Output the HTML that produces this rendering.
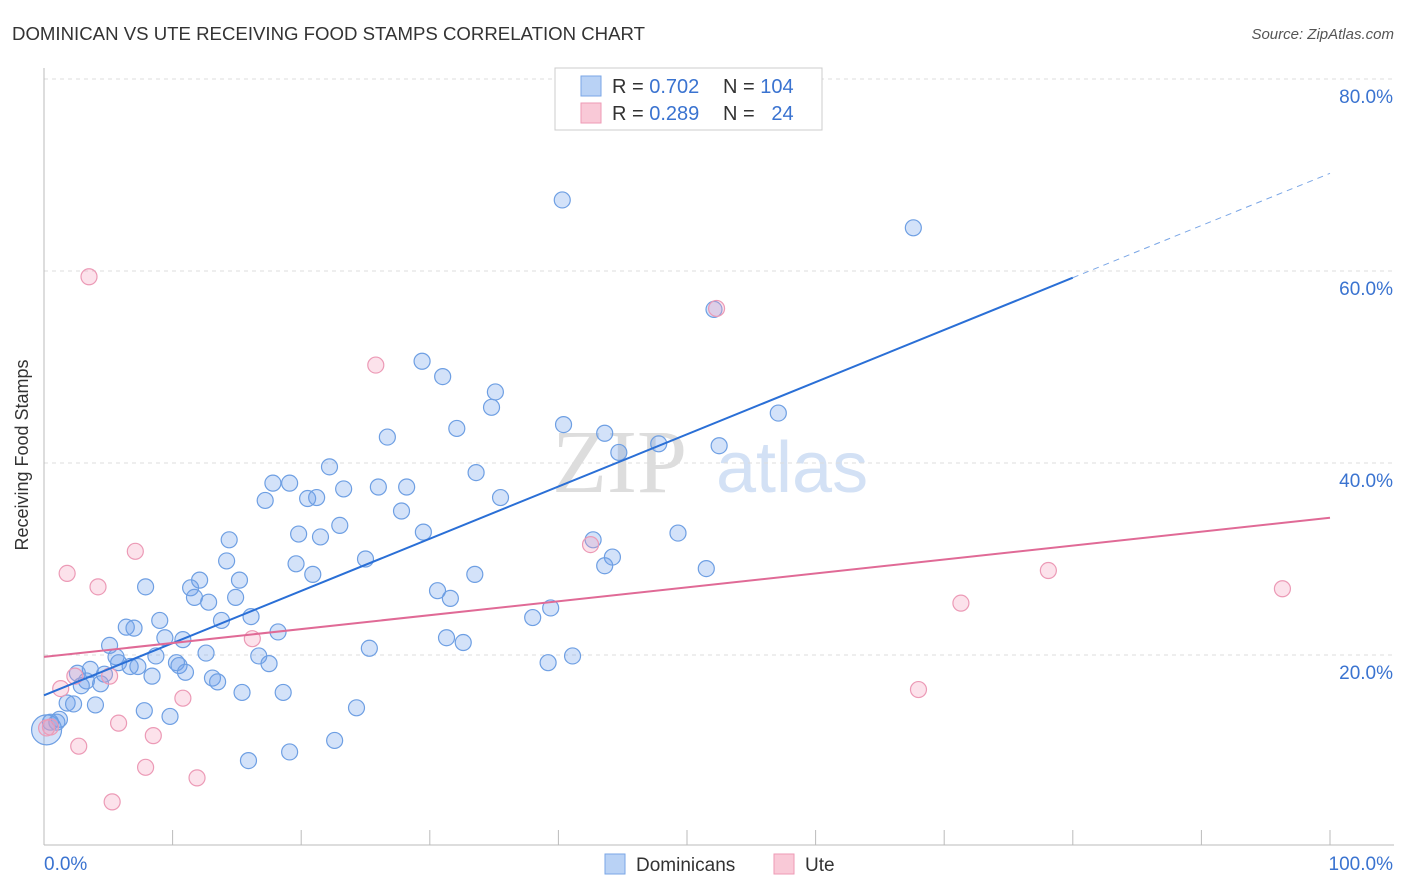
<!DOCTYPE html>
<html><head><meta charset="utf-8">
<style>
body{margin:0;background:#fff;font-family:"Liberation Sans",sans-serif;}
#wrap{position:relative;width:1406px;height:892px;overflow:hidden;}
</style></head>
<body>
<div id="wrap">
<svg id="svg" width="1406" height="892" xmlns="http://www.w3.org/2000/svg">
<text x="12" y="40" font-size="18" fill="#333" textLength="633" lengthAdjust="spacingAndGlyphs">DOMINICAN VS UTE RECEIVING FOOD STAMPS CORRELATION CHART</text>
<text x="1394" y="39" font-size="15" fill="#555" font-style="italic" text-anchor="end">Source: ZipAtlas.com</text>
<text x="28" y="455" font-size="18" fill="#333" text-anchor="middle" transform="rotate(-90 28 455)">Receiving Food Stamps</text>
<g>
<text x="552" y="492" font-size="90" fill="#ddd" font-family="Liberation Serif">ZIP</text>
<text x="716" y="492" font-size="72" fill="#d3e1f5">atlas</text>
</g>
<g id="grid"></g>
<g id="axes"></g>
<g id="pts"></g>
<g id="lines"></g>
<g>
<rect x="555" y="68" width="267" height="62" fill="#fff" stroke="#ccc"/>
<rect x="581" y="76" width="20" height="20" fill="#b9d2f5" stroke="#7aa6e6"/>
<text x="612" y="93" font-size="20" fill="#333">R = <tspan fill="#3a73d0">0.702</tspan></text>
<text x="723" y="93" font-size="20" fill="#333">N = <tspan fill="#3a73d0">104</tspan></text>
<rect x="581" y="103" width="20" height="20" fill="#f9c9d7" stroke="#ee9ab5"/>
<text x="612" y="120" font-size="20" fill="#333">R = <tspan fill="#3a73d0">0.289</tspan></text>
<text x="723" y="120" font-size="20" fill="#333" xml:space="preserve">N =   <tspan fill="#3a73d0">24</tspan></text>
</g>
<g>
<rect x="605" y="854" width="20" height="20" fill="#b9d2f5" stroke="#7aa6e6"/>
<text x="636" y="871" font-size="19" fill="#333">Dominicans</text>
<rect x="774" y="854" width="20" height="20" fill="#f9c9d7" stroke="#ee9ab5"/>
<text x="805" y="871" font-size="19" fill="#333">Ute</text>
</g>
</svg>
</div>
<script>
const yTicks=[20,40,60,80];
const yTickLabels=["20.0%","40.0%","60.0%","80.0%"];
const xTickLabels=["0.0%","100.0%"];
const domX=[40.3,67.6,52.1,29.4,31.0,35.1,34.8,57.1,40.4,26.7,32.1,43.6,44.7,47.8,52.5,22.2,33.6,17.8,19.1,26.0,28.2,23.3,17.2,20.5,21.2,35.5,27.8,23.0,14.4,19.8,21.5,29.5,49.3,42.7,44.2,25.0,14.2,19.6,20.9,33.5,43.6,51.5,15.2,12.1,11.4,7.9,11.7,14.9,12.8,30.6,31.6,9.0,16.1,13.8,39.4,38.0,6.4,7.0,18.2,9.4,10.8,31.3,32.6,5.1,25.3,12.6,5.6,8.7,41.1,16.7,39.2,10.3,5.8,17.5,10.5,6.7,7.3,11.0,3.6,8.4,2.6,4.7,13.1,13.5,3.3,4.4,2.9,15.4,18.6,1.8,4.0,2.3,24.3,7.8,9.8,1.2,0.5,19.1,22.6,15.9,1.0];
const domY=[67.4,64.5,56.0,50.6,49.0,47.4,45.8,45.2,44.0,42.7,43.6,43.1,41.1,42.0,41.8,39.6,39.0,37.9,37.9,37.5,37.5,37.3,36.1,36.3,36.4,36.4,35.0,33.5,32.0,32.6,32.3,32.8,32.7,32.0,30.2,30.0,29.8,29.5,28.4,28.4,29.3,29.0,27.8,27.8,27.0,27.1,26.0,26.0,25.5,26.7,25.9,23.6,24.0,23.6,24.9,23.9,22.9,22.8,22.4,21.8,21.6,21.8,21.3,21.0,20.7,20.2,19.8,19.9,19.9,19.9,19.2,19.2,19.2,19.1,18.9,18.8,18.8,18.2,18.5,17.8,18.1,18.0,17.6,17.2,17.3,17.0,16.8,16.1,16.1,15.0,14.8,14.9,14.5,14.2,13.6,13.3,13.0,9.9,11.1,9.0,13.0];
const uteX=[3.5,52.3,25.8,7.1,42.5,1.8,4.2,78.1,96.3,71.3,16.2,5.1,2.4,1.3,10.8,68.0,5.8,0.5,8.5,2.7,7.9,11.9,5.3,0.2];
const uteY=[59.4,56.1,50.2,30.8,31.5,28.5,27.1,28.8,26.9,25.4,21.7,17.8,17.8,16.5,15.5,16.4,12.9,12.5,11.6,10.5,8.3,7.2,4.7,12.4];
const bigX=[0.2],bigY=[12.2];
const domLine=[15.8,59.3,80,100];
const uteLine=[19.8,34.3];

const NS="http://www.w3.org/2000/svg";
const X=v=>44+v*12.86, Y=v=>847-v*9.6;
function mk(t,a,p){const e=document.createElementNS(NS,t);for(const k in a)e.setAttribute(k,a[k]);p.appendChild(e);return e;}
const grid=document.getElementById('grid'),axes=document.getElementById('axes'),pts=document.getElementById('pts'),lines=document.getElementById('lines');
yTicks.forEach((t,i)=>{
 const l=mk('line',{x1:44,x2:1394,y1:Y(t),y2:Y(t),stroke:'#ddd','stroke-dasharray':'4,4'},grid);
 
 
 const tx=mk('text',{x:1393,y:Y(t)+24,'font-size':19,fill:'#3a73d0','text-anchor':'end'},axes);
 tx.textContent=yTickLabels[i];
 
 
});
let a=mk('line',{x1:44,x2:44,y1:68,y2:845,stroke:'#bbb'},axes);


a=mk('line',{x1:44,x2:1394,y1:845,y2:845,stroke:'#bbb'},axes);


for(let i=1;i<=10;i++){const t=mk('line',{x1:X(i*10),x2:X(i*10),y1:830,y2:845,stroke:'#bbb'},axes);
 
 }
let xl=mk('text',{x:44,y:870,'font-size':19,fill:'#3a73d0'},axes);xl.textContent=xTickLabels[0];


xl=mk('text',{x:1393,y:870,'font-size':19,fill:'#3a73d0','text-anchor':'end'},axes);xl.textContent=xTickLabels[1];


function dots(xs,ys,r,fill,stroke,name){xs.forEach((v,i)=>{const c=mk('circle',{cx:X(v),cy:Y(ys[i]),r:r,fill:fill,stroke:stroke,'stroke-width':1.2},pts);
 
 });}
dots(domX,domY,8,'rgba(110,160,235,0.3)','#6e9fe3','dominican-point');
dots(bigX,bigY,15,'rgba(110,160,235,0.3)','#6e9fe3','dominican-point-large');
dots(uteX,uteY,8,'rgba(245,160,190,0.3)','#ec9ab6','ute-point');
let ln=mk('line',{x1:X(0),y1:Y(domLine[0]),x2:X(domLine[2]),y2:Y(domLine[1]),stroke:'#2a6fd6','stroke-width':2},lines);


const slope=(domLine[1]-domLine[0])/domLine[2];
ln=mk('line',{x1:X(domLine[2]),y1:Y(domLine[1]),x2:X(domLine[3]),y2:Y(domLine[0]+slope*domLine[3]),stroke:'#7aa6e6','stroke-width':1,'stroke-dasharray':'6,5'},lines);


ln=mk('line',{x1:X(0),y1:Y(uteLine[0]),x2:X(100),y2:Y(uteLine[1]),stroke:'#e06a96','stroke-width':2},lines);


</script>
</body></html>
